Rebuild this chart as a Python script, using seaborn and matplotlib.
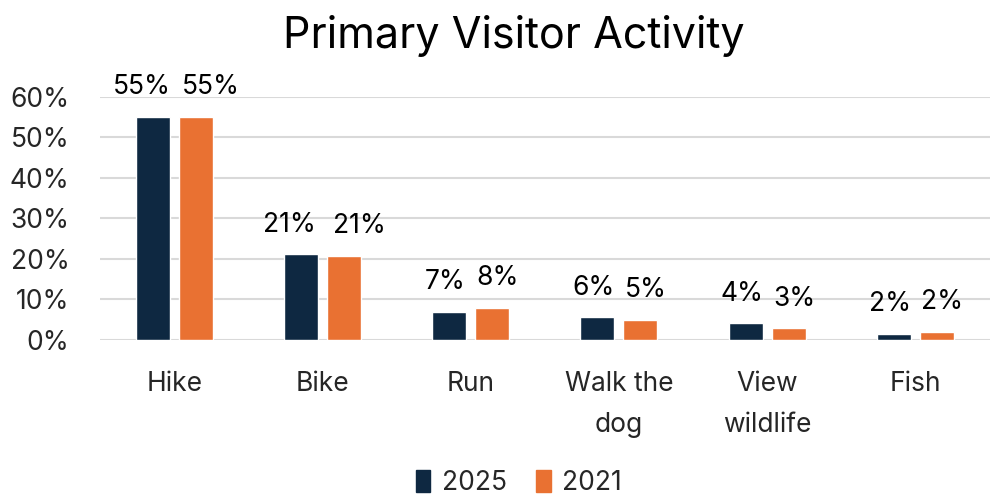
import pandas as pd
import numpy as np
import matplotlib
matplotlib.use("Agg")
import matplotlib.pyplot as plt
import seaborn as sns

# chart data
activities = ["Hike", "Bike", "Run", "Walk the\ndog", "View\nwildlife", "Fish"]
years = ["2025", "2021"]
pct_2025 = [0.55, 0.211, 0.070, 0.056, 0.041, 0.016]
pct_2021 = [0.55, 0.208, 0.080, 0.050, 0.029, 0.020]

navy = "#0E2841"
orange = "#E97132"

df = pd.DataFrame({
    "Activity": activities * 2,
    "Year": [years[0]] * len(activities) + [years[1]] * len(activities),
    "Pct": pct_2025 + pct_2021,
})

sns.set_theme(style="white")
plt.rcParams["font.family"] = ["Inter", "DejaVu Sans"]

fig = plt.figure(figsize=(9.94, 4.95), dpi=100)
ax = fig.add_axes([0.1006, 0.313, 0.895, 0.492])

sns.barplot(data=df, x="Activity", y="Pct", hue="Year", order=activities,
            hue_order=years, palette=[navy, orange], width=0.58, gap=0.21,
            saturation=1, ax=ax, legend=True)

ax.set_ylim(0, 0.6)
ax.set_yticks(np.arange(0, 0.61, 0.1))
ax.set_yticklabels([f"{int(round(t * 100))}%" for t in np.arange(0, 0.61, 0.1)])
ax.yaxis.grid(True, color="#D9D9D9", linewidth=1.5)
ax.set_axisbelow(True)
for s in ax.spines.values():
    s.set_visible(False)
ax.set_xlabel("")
ax.set_ylabel("")
ax.tick_params(axis="y", labelsize=19, pad=22, length=0)
ax.tick_params(axis="x", labelsize=19, pad=22, length=0)
for lbl in ax.get_xticklabels():
    lbl.set_linespacing(1.75)
ax.set_xlim(-0.5, len(activities) - 0.5)

# data labels, nudged apart when they would collide (like Excel)
for ci, cont in enumerate(ax.containers):
    for bar, val in zip(cont, [pct_2025, pct_2021][ci]):
        txt = f"{val:.0%}"
        if len(txt) > 2:
            shift = -8 if ci == 0 else 11
        else:
            shift = -3 if ci == 0 else 4
        ax.annotate(txt, (bar.get_x() + bar.get_width() / 2, bar.get_height()),
                    xytext=(shift, 12), textcoords="offset points",
                    ha="center", va="bottom", fontsize=19, color="black")

ax.legend_.remove()
handles = [plt.Rectangle((0, 0), 1, 1, color=c) for c in [navy, orange]]
fig.legend(handles, years, loc="center", bbox_to_anchor=(0.522, 0.024),
           ncol=2, frameon=False, fontsize=19, handlelength=0.55,
           handleheight=0.85, handletextpad=0.45, columnspacing=1.1)

fig.text(0.517, 0.928, "Primary Visitor Activity", ha="center", va="center",
         fontsize=31, color="black")

fig.savefig("out.png", dpi=100)
